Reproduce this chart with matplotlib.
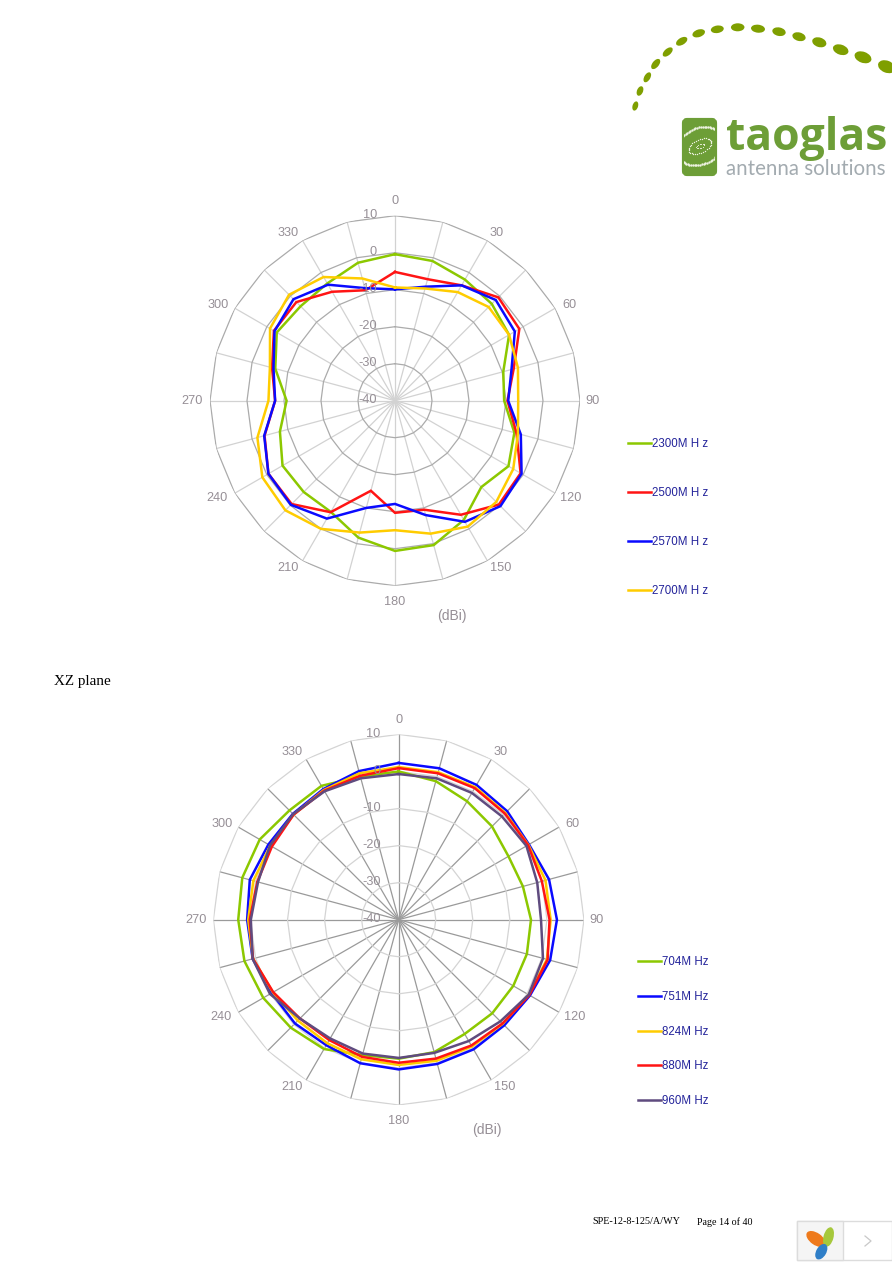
import numpy as np
import matplotlib
matplotlib.use('Agg')
import matplotlib.pyplot as plt
from matplotlib.patches import Ellipse, FancyBboxPatch, Rectangle

W, H = 892, 1262

# angles every 15 deg, values in dBi
angles = np.arange(0, 360, 15)
ring_levels = [-30, -20, -10, 0, 10]
ring_labels = ['-40', '-30', '-20', '-10', '0', '10']
angle_labels = list(range(0, 360, 30))
# label centres from the chart centre, px
label_dx = [0, 102, 174, 198, 176, 106, 0, -107, -178, -203, -177, -107]
label_dy = [-200, -168, -96, 0, 97, 167, 201, 167, 97, 0, -96, -168]

# top plot
top_names = ['2300M H z', '2500M H z', '2570M H z', '2700M H z']
g2300 = [-0.4, -0.9, -2.2, -3.0, -4.4, -9.7, -10.5, -6.6, -4.6, -7.0, -2.8, 0.4,
         0.6, -1.7, -5.3, -5.1, -4.9, -7.8, -10.7, -6.5, -3.1, -3.9, -3.4, -1.4]
r2500 = [-5.2, -6.0, -4.0, -0.5, -1.2, -6.8, -9.6, -6.0, -0.8, -0.3, -4.4, -9.5,
         -9.7, -14.8, -5.2, -0.5, -0.5, -3.5, -7.6, -5.6, -2.2, -2.3, -6.0, -9.1]
b2570 = [-9.9, -8.1, -4.0, -1.5, -2.6, -7.4, -9.4, -4.8, -0.5, 0.3, -2.2, -8.0,
         -12.1, -10.0, -3.2, -0.2, -0.5, -3.4, -7.6, -6.0, -2.4, -1.2, -3.8, -8.5]
y2700 = [-9.4, -8.6, -6.1, -4.2, -4.4, -5.6, -6.7, -5.6, -3.1, -1.3, -0.7, -2.8,
         -5.0, -3.1, 0.0, 1.9, 1.4, -1.5, -5.8, -5.0, -1.0, 0.5, -1.4, -5.8]
top_series = [g2300, r2500, b2570, y2700]
top_colors = ['#8cc800', '#ff1414', '#0a0aff', '#ffcc00']

# bottom plot
bot_names = ['704M Hz', '751M Hz', '824M Hz', '880M Hz', '960M Hz']
g704 = [0.0, -1.3, -3.1, -4.4, -5.8, -5.3, -4.3, -4.2, -4.3, -4.3, -4.4, -3.0,
        -2.5, -2.2, 0.3, 1.2, 2.2, 3.1, 3.3, 3.7, 3.3, 1.7, 1.7, 0.0]
b751 = [2.3, 2.3, 2.0, 1.4, 0.6, 2.0, 2.7, 2.3, 0.9, 0.3, 0.4, 0.3,
        0.4, 0.1, -0.9, -0.4, -0.4, 0.8, 0.9, 1.6, 0.6, 0.4, 0.7, 1.5]
y824 = [1.2, 1.2, 1.3, 0.7, 0.4, 1.0, 1.0, 1.4, 0.5, -0.3, -0.5, -0.6,
        -0.8, -1.0, -1.5, -1.5, -0.8, 0.7, 0.6, 0.6, 0.0, 0.1, 0.4, 0.9]
r880 = [0.9, 0.9, 1.0, 0.5, 0.3, 0.0, 0.7, 1.6, 0.7, -0.4, -0.8, -1.2,
        -1.4, -1.7, -2.5, -2.3, -0.9, 0.7, 0.2, -0.5, -0.5, 0.1, 0.2, 0.2]
p960 = [-0.7, -0.5, -0.5, -0.6, -0.2, -1.3, -1.6, 0.3, 0.5, -1.2, -2.2, -2.8,
        -2.7, -2.6, -3.0, -2.3, 0.1, 0.8, -0.1, -0.7, 0.1, 0.3, 0.0, -0.5]
bot_series = [g704, b751, y824, r880, p960]
bot_colors = ['#8cc800', '#0a0aff', '#ffcc00', '#ff1414', '#5f4b7f']

GREY = '#968f96'
SANS = 'Liberation Sans'
SERIF = 'Liberation Serif'


def polar_chart(fig, cx, cy, radius, series, colors, names, ring_col, spoke_col, leg_xy, leg_gap):
    ax = fig.add_axes([(cx - radius) / W, 1 - (cy + radius) / H, 2 * radius / W, 2 * radius / H],
                      projection='polar')
    ax.set_theta_zero_location('N')
    ax.set_theta_direction(-1)
    ax.set_rlim(-40, 10)
    ax.set_xticks([])
    ax.set_yticks([])
    ax.grid(False)
    ax.spines['polar'].set_visible(False)
    ax.patch.set_alpha(0)

    th = np.deg2rad(angles)
    th_closed = np.append(th, th[0])
    for t in th:
        ax.plot([t, t], [-40, 10], color=spoke_col, lw=0.9, zorder=1)
    for lev in ring_levels:
        ax.plot(th_closed, np.full(th_closed.shape, lev), color=ring_col, lw=0.9, zorder=1.5)

    for vals, c, name in zip(series, colors, names):
        v = np.array(vals)
        ax.plot(th_closed, np.append(v, v[0]), color=c, lw=1.8, label=name, zorder=3,
                solid_joinstyle='miter')

    for lab, lev in zip(ring_labels, [-40] + ring_levels):
        ax.annotate(lab, (0, lev), xytext=(-13, 0.5), textcoords='offset points', ha='right',
                    va='center', color=GREY, fontsize=9.2, family=SANS, zorder=4, annotation_clip=False)
    # px to points is 0.72 at dpi 100
    for a, dx, dy in zip(angle_labels, label_dx, label_dy):
        ax.annotate(str(a), (0, -40), xytext=(dx * 0.72, -dy * 0.72), textcoords='offset points',
                    ha='center', va='center', color=GREY, fontsize=9.2, family=SANS, annotation_clip=False)

    ax.legend(loc='upper left', bbox_to_anchor=(leg_xy[0] / W, 1 - leg_xy[1] / H),
              bbox_transform=fig.transFigure, frameon=False, borderpad=0, borderaxespad=0,
              handlelength=2.0, handletextpad=0.1, labelspacing=leg_gap,
              labelcolor='#23239a', prop={'family': SANS, 'size': 8.3})
    return ax


fig = plt.figure(figsize=(W / 100, H / 100), dpi=100, facecolor='white')

# page layer in pixel coords, for the logo and the page text
page = fig.add_axes([0, 0, 1, 1])
page.set_xlim(0, W)
page.set_ylim(H, 0)
page.axis('off')

# logo arc of dots
dots_x = [635.3, 640, 647.3, 655.7, 667.7, 681.7, 698.7, 717.3, 737.7, 758, 779, 799, 819.3, 840.7, 863, 886.7]
dots_y = [106, 91, 77.3, 64, 52, 41.3, 33.3, 29.3, 27.3, 28.7, 31.7, 36.7, 42.3, 49.7, 57.3, 66.7]
dots_w = [9.5, 10, 11, 12, 12, 12.5, 13, 13, 13.5, 14, 13.5, 13.5, 14.5, 16, 17.5, 18]
dots_h = [5.5, 6, 6, 6.5, 6.5, 7, 7.5, 7.5, 8, 8, 8.5, 8.5, 9.5, 10, 11, 12]
for i in range(len(dots_x)):
    j0, j1 = max(i - 1, 0), min(i + 1, len(dots_x) - 1)
    ang = np.degrees(np.arctan2(dots_y[j1] - dots_y[j0], dots_x[j1] - dots_x[j0]))
    page.add_patch(Ellipse((dots_x[i], dots_y[i]), dots_w[i], dots_h[i], angle=ang,
                           color='#7f9f00', lw=0))

LOGO = '#6d9e37'
logo_box = FancyBboxPatch((684, 120), 31, 54, boxstyle='round,pad=0,rounding_size=3',
                          fc=LOGO, ec=LOGO, lw=3)
page.add_patch(logo_box)
a = np.deg2rad(-25)
for rx, ry, n, size in [(24, 18, 80, 3.0), (12, 6.5, 34, 1.0), (4, 2, 14, 0.6)]:
    t = np.linspace(0, 2 * np.pi, n)
    ex, ey = rx * np.cos(t), ry * np.sin(t)
    pts = page.scatter(700 + ex * np.cos(a) - ey * np.sin(a), 146 + ex * np.sin(a) + ey * np.cos(a),
                       s=size, color='#eef3e2', lw=0)
    pts.set_clip_path(logo_box)
page.text(726, 150, 'taoglas', family='Open Sans', weight='bold', fontsize=32, color=LOGO, va='baseline')
page.text(726.5, 175, 'antenna solutions', family='Lato', fontsize=14.8, color='#a3abb0', va='baseline')

# page text
page.text(54, 681, 'XZ plane', family=SERIF, fontsize=10.9, color='black', va='center')
page.text(451.5, 616, '(dBi)', family=SANS, fontsize=10, color=GREY, ha='center', va='center')
page.text(486.5, 1130, '(dBi)', family=SANS, fontsize=10, color=GREY, ha='center', va='center')
page.text(592, 1222, 'SPE-12-8-125/A/WY', family=SERIF, fontsize=7.3, color='black', va='center')
page.text(697, 1222, 'Page 14 of 40', family=SERIF, fontsize=7.2, color='black', va='center')

# widget in the bottom corner
page.add_patch(Rectangle((796.5, 1220.5), 95, 39, fc='white', ec='#dcdcdc', lw=1))
page.add_patch(Rectangle((796.5, 1220.5), 46, 39, fc='#f5f5f5', ec='#dcdcdc', lw=1))
page.add_patch(Ellipse((816, 1239), 22, 12, angle=35, color='#ee7a1c', lw=0))
page.add_patch(Ellipse((828.5, 1237), 20, 10, angle=-75, color='#a6c83c', lw=0))
page.add_patch(Ellipse((821.3, 1251.7), 17, 10, angle=-60, color='#2f7fc8', lw=0))
page.plot([865, 871, 865], [1236, 1241, 1246], color='#c8c8c8', lw=0.9)

polar_chart(fig, 395, 400.7, 185, top_series, top_colors, top_names, '#ababab', '#d2d2d2', (628, 438), 3.2)
polar_chart(fig, 398.7, 919.7, 185.3, bot_series, bot_colors, bot_names, '#d4d4d4', '#9a9a9a', (638, 956), 1.98)

fig.savefig('out.png', dpi=100)
